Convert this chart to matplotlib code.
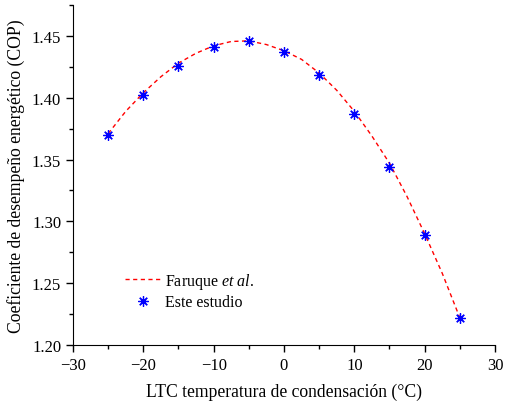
import matplotlib
matplotlib.use("Agg")
import matplotlib.pyplot as plt
from matplotlib.ticker import MultipleLocator

plt.rcParams['font.family'] = ['Liberation Serif', 'DejaVu Serif']
plt.rcParams['mathtext.fontset'] = 'custom'
plt.rcParams['mathtext.rm'] = 'Liberation Serif'
plt.rcParams['mathtext.it'] = 'Liberation Serif:italic'

# Data
x_study = [-25, -20, -15, -10, -5, 0, 5, 10, 15, 20, 25]
cop_study = [1.370, 1.402, 1.426, 1.441, 1.446, 1.437, 1.418, 1.387, 1.344, 1.289, 1.222]

x_faruque = [-25, -22.5, -20, -17.5, -15, -12.5, -10, -7.5, -5, -2.5, 0,
             2.5, 5, 7.5, 10, 12.5, 15, 17.5, 20, 22.5, 25]
cop_faruque = [1.371, 1.389, 1.404, 1.417, 1.428, 1.436, 1.442, 1.4455, 1.446, 1.443, 1.438,
               1.431, 1.420, 1.406, 1.389, 1.369, 1.347, 1.320, 1.290, 1.258, 1.222]

fig = plt.figure(figsize=(5.06, 4.02), dpi=100)
ax = fig.add_axes([73/506, 1 - 346/402, (495-73)/506, (346-6)/402])

ax.plot(x_faruque, cop_faruque, linestyle=(0, (3, 2.5)), color='red', lw=1.0,
        label=r'Faruque $\mathit{et\ al.}$')
ax.plot(x_study, cop_study, linestyle='none', marker=(8, 2, 0), markersize=7.5,
        markeredgewidth=0.9, color='blue', label='Este estudio')

ax.set_xlim(-30, 30)
ax.set_ylim(1.20, 1.475)
ax.xaxis.set_major_locator(MultipleLocator(10))
ax.xaxis.set_minor_locator(MultipleLocator(5))
ax.yaxis.set_major_locator(MultipleLocator(0.05))
ax.yaxis.set_minor_locator(MultipleLocator(0.025))
ax.yaxis.set_major_formatter(matplotlib.ticker.FormatStrFormatter('%.2f'))

ax.spines['top'].set_visible(False)
ax.spines['right'].set_visible(False)
ax.tick_params(which='major', direction='out', length=5, width=1, labelsize=12)
ax.tick_params(which='minor', direction='out', length=3, width=1)

ax.set_xlabel('LTC temperatura de condensación (°C)', fontsize=12.7, labelpad=7)
ax.set_ylabel('Coeficiente de desempeño energético (COP)', fontsize=12.7, labelpad=5)

ax.legend(loc='lower left', bbox_to_anchor=(0.09, 0.06), frameon=False, fontsize=11.5,
          handlelength=2.2, handletextpad=0.3, labelspacing=0.2)

fig.savefig('out.png', dpi=100)
